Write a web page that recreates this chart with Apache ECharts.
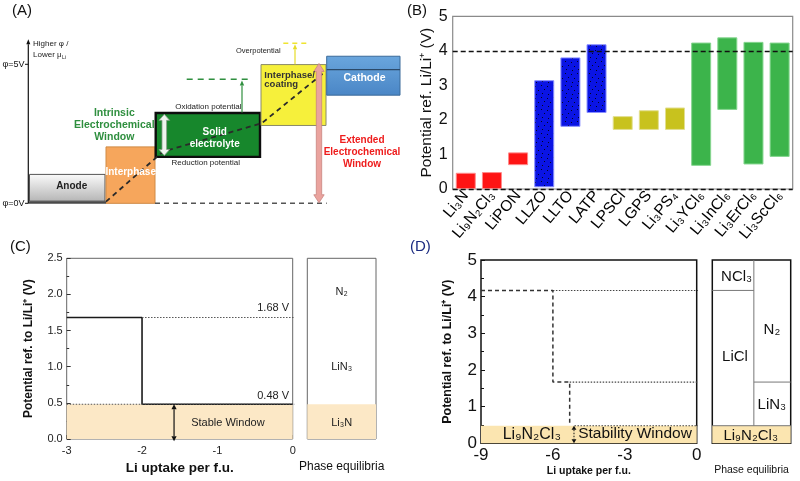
<!DOCTYPE html>
<html><head><meta charset="utf-8">
<script src="https://cdn.jsdelivr.net/npm/echarts@6/dist/echarts.min.js"></script>
<style>html,body{margin:0;padding:0;background:#fff}#c{width:800px;height:481px}</style>
</head><body><div id="c"></div>
<script>
// ---------------- Panel B data ----------------
const bCategories = ['Li₃N','Li₉N₂Cl₃','LiPON','LLZO','LLTO','LATP','LPSCl','LGPS','Li₃PS₄','Li₃YCl₆','Li₃InCl₆','Li₃ErCl₆','Li₃ScCl₆'];
const bLow  = [0.00,0.00,0.69,0.05,1.80,2.20,1.71,1.71,1.71,0.67,2.29,0.71,0.93];
const bHigh = [0.47,0.49,1.06,3.15,3.81,4.19,2.11,2.28,2.36,4.24,4.39,4.26,4.24];
const bGroup = ['nitride','nitride','nitride','oxide','oxide','oxide','sulfide','sulfide','sulfide','halide','halide','halide','halide'];
const bRefLines = [4, 0];
const bYTicks = [0,1,2,3,4,5];

// ---------------- Panel C data ----------------
const cStepX = [-3,-2,-2,0];
const cStepY = [1.68,1.68,0.48,0.48];
const cLevels = [1.68,0.48];
const cLevelStartX = [-2,-3];
const cStableTop = 0.48;
const cPhaseNames = ['N₂','LiN₃','Li₃N'];
const cPhaseY = [2.04,1.0,0.22];

// ---------------- Panel D data ----------------
const dStepX = [-9,-6,-6,-5.3,-5.3];
const dStepY = [4.17,4.17,1.67,1.67,0.48];
const dLevels = [4.17,1.67,0.48];
const dLevelStartX = [-6,-5.3,-5.1];
const dStableTop = 0.48;
const dPhaseNames = ['NCl₃','LiCl','N₂','LiN₃','Li₉N₂Cl₃'];
const dPhaseX = [0.31,0.29,0.76,0.76,0.49];
const dPhaseY = [4.55,2.36,3.09,1.04,0.2];
const dDivider = 0.53;

// ---------------- Panel A (schematic) data: x arbitrary, y = potential phi (V) ----------------
const aBoxNames = ['Anode','Interphase','Solid electrolyte','Interphase/coating','Cathode'];
const aBoxLeft  = [29.5,106,155.7,261,326.7];
const aBoxRight = [105,155,260,326,400];
const aBoxLow   = [0.08,0,1.67,2.80,3.89];
const aBoxHigh  = [1.04,2.03,3.25,4.99,5.29];
const aDiagX = [106,163,261.7,325];
const aDiagY = [0.06,1.86,2.88,4.73];

const FONT = 'Liberation Sans, Arial, sans-serif';

function stipple(bg) {
  const c = document.createElement('canvas'); c.width = 12; c.height = 12;
  const g = c.getContext('2d'); g.fillStyle = bg; g.fillRect(0,0,12,12);
  g.fillStyle = 'rgba(0,0,0,0.85)';
  [[1,1],[7,2],[4,5],[10,6],[2,9],[8,10]].forEach(p => g.fillRect(p[0],p[1],1,1));
  return c;
}

const boxStyle = {
  'Anode': {fill:new echarts.graphic.LinearGradient(0,0,0,1,[{offset:0,color:'#fbfbfb'},{offset:1,color:'#b5b5b5'}]), stroke:'#555', lw:1},
  'Interphase': {fill:'#f6a65c', stroke:'#d08a44', lw:1},
  'Solid electrolyte': {fill:'#17872c', stroke:'#0d0d0d', lw:2.4},
  'Interphase/coating': {fill:'#f6f03b', stroke:'#8a8a6a', lw:1},
  'Cathode': {fill:new echarts.graphic.LinearGradient(0,0,0,1,[{offset:0,color:'#6aa6dd'},{offset:1,color:'#4a86c6'}]), stroke:'#3b6a9a', lw:1}
};
const bColors = {nitride:'#fe1414', oxide:{image:stipple('#0a14e4'), repeat:'repeat'}, sulfide:'#c8c21e', halide:'#3cb44b'};
const bBorders = {nitride:'#ff8a8a', oxide:'#8a90ff', sulfide:'#e2df90', halide:'#86d690'};

function textSeries(xi, yi, items, z) {
  return {type:'custom', xAxisIndex:xi, yAxisIndex:yi, silent:true, z:z||20, clip:false,
    data: items.map(t => [t.x, t.y]),
    renderItem(params, api) {
      const t = items[params.dataIndex];
      const p = api.coord([api.value(0), api.value(1)]);
      return {type:'text', x:p[0], y:p[1], style:{text:t.text, fill:t.color||'#111',
        font:(t.weight||'normal')+' '+(t.size||11)+'px '+FONT, align:t.align||'center', verticalAlign:'middle'}};
    }};
}
function lineSeries(xi, yi, pts, style, z) {
  return {type:'line', xAxisIndex:xi, yAxisIndex:yi, data:pts, showSymbol:false, symbol:'none', silent:true,
    clip:false, animation:false, z:z||5, lineStyle:Object.assign({color:'#000', width:1}, style)};
}
function thinArrow(xi, yi, x, y1, y2, both, color, width, dash, hw, hl, z) {
  return {type:'custom', xAxisIndex:xi, yAxisIndex:yi, silent:true, clip:false, z:z||8,
    data:[[x,y1,y2]],
    renderItem(params, api) {
      const a = api.coord([api.value(0), api.value(1)]);
      const b = api.coord([api.value(0), api.value(2)]);
      const up = b[1] < a[1] ? -1 : 1;
      const children = [];
      const s = both ? a[1] + up*hl : a[1];
      const e = b[1] - up*hl;
      children.push({type:'line', shape:{x1:a[0],y1:s,x2:b[0],y2:e}, style:{stroke:color, lineWidth:width, lineDash:dash||null}});
      children.push({type:'polygon', shape:{points:[[b[0],b[1]],[b[0]-hw,b[1]-up*hl],[b[0]+hw,b[1]-up*hl]]}, style:{fill:color}});
      if (both) children.push({type:'polygon', shape:{points:[[a[0],a[1]],[a[0]-hw,a[1]+up*hl],[a[0]+hw,a[1]+up*hl]]}, style:{fill:color}});
      return {type:'group', children};
    }};
}
function bigArrow(x, yTop, yBot, fill, stroke, w, h, L) {
  return {type:'custom', xAxisIndex:0, yAxisIndex:0, silent:true, clip:false, z:9,
    data:[[x,yTop,yBot]],
    renderItem(params, api) {
      const t = api.coord([api.value(0), api.value(1)]);
      const b = api.coord([api.value(0), api.value(2)]);
      const X = t[0], yt = t[1], yb = b[1];
      const pts = [[X,yt],[X+h,yt+L],[X+w,yt+L],[X+w,yb-L],[X+h,yb-L],[X,yb],[X-h,yb-L],[X-w,yb-L],[X-w,yt+L],[X-h,yt+L]];
      return {type:'polygon', shape:{points:pts}, style:{fill, stroke, lineWidth:0.8}};
    }};
}

const series = [];

// ---------- Panel A ----------
series.push({type:'custom', xAxisIndex:0, yAxisIndex:0, silent:true, z:2, clip:false,
  data: aBoxNames.map((n,i)=>[aBoxLeft[i], aBoxRight[i], aBoxLow[i], aBoxHigh[i]]),
  renderItem(params, api) {
    const st = boxStyle[aBoxNames[params.dataIndex]];
    const p0 = api.coord([api.value(0), api.value(3)]);
    const p1 = api.coord([api.value(1), api.value(2)]);
    return {type:'rect', shape:{x:p0[0], y:p0[1], width:p1[0]-p0[0], height:p1[1]-p0[1]}, style:{fill:st.fill, stroke:st.stroke, lineWidth:st.lw}};
  }});
series.push(lineSeries(0,0,[[28.3,0.03],[106,0.03]],{color:'#4a4a4a',width:2.6},3));
series.push(lineSeries(0,0,[[155,0],[326.7,0]],{color:'#555',width:1.5,type:[5,4]},3));
series.push(lineSeries(0,0,[[326.7,4.81],[400,4.81]],{color:'#2b4a6a',width:1.4},4));
series.push(lineSeries(0,0,aDiagX.map((x,i)=>[x,aDiagY[i]]),{color:'#2a2a2a',width:1.8,type:[5,4]},6));
series.push(lineSeries(0,0,[[186.7,4.46],[248,4.46]],{color:'#2f8f3f',width:1.5,type:[6,5]},4));
series.push(lineSeries(0,0,[[283.3,5.76],[308.3,5.76]],{color:'#efe430',width:1.5,type:[5,4]},4));
series.push(lineSeries(0,0,[[25,5],[28.3,5]],{color:'#111',width:1},4));
series.push(lineSeries(0,0,[[25,0],[28.3,0]],{color:'#111',width:1},4));
series.push(thinArrow(0,0,28.3,0,5.9,false,'#111',1.2,null,2,5,4));
series.push(thinArrow(0,0,242,3.27,4.42,false,'#2f8f3f',1.2,null,2.2,5,4));
series.push(thinArrow(0,0,295,5.0,5.72,false,'#e6dc28',1.2,null,2.2,5,4));
series.push(bigArrow(164.3,3.2,1.72,'#eef5ee','#8a9a8a',2.3,5.3,6));
series.push(bigArrow(319,5.03,0.02,'#eaa39e','#c98580',2.7,5.2,8));
series.push(textSeries(0,0,[
  {text:'Higher φ /',x:33,y:5.72,size:8,align:'left',color:'#222'},
  {text:'Lower μ',x:33,y:5.33,size:8,align:'left',color:'#222'},
  {text:'Li',x:62,y:5.24,size:5,align:'left',color:'#222'},
  {text:'φ=5V',x:24.5,y:5,size:9,align:'right',color:'#111'},
  {text:'φ=0V',x:24.5,y:0,size:9,align:'right',color:'#111'},
  {text:'Anode',x:71.7,y:0.63,size:10,weight:'bold',color:'#222'},
  {text:'Interphase',x:130.7,y:1.1,size:10,weight:'bold',color:'#fff'},
  {text:'Solid',x:214.7,y:2.54,size:10,weight:'bold',color:'#fff'},
  {text:'electrolyte',x:214.7,y:2.13,size:10,weight:'bold',color:'#fff'},
  {text:'Oxidation potential',x:208.3,y:3.47,size:8,color:'#222'},
  {text:'Reduction potential',x:205.8,y:1.44,size:8,color:'#222'},
  {text:'Overpotential',x:258.3,y:5.48,size:7.5,color:'#222'},
  {text:'Interphase/',x:264.3,y:4.61,size:9.5,weight:'bold',align:'left',color:'#333'},
  {text:'coating',x:264.3,y:4.27,size:9.5,weight:'bold',align:'left',color:'#333'},
  {text:'Cathode',x:364.5,y:4.49,size:10.5,weight:'bold',color:'#fff'},
  {text:'Intrinsic',x:114.3,y:3.25,size:10.5,weight:'bold',color:'#2f8f3f'},
  {text:'Electrochemical',x:114.3,y:2.80,size:10.5,weight:'bold',color:'#2f8f3f'},
  {text:'Window',x:114.3,y:2.37,size:10.5,weight:'bold',color:'#2f8f3f'},
  {text:'Extended',x:362,y:2.28,size:10,weight:'bold',color:'#ee1c1c'},
  {text:'Electrochemical',x:362,y:1.83,size:10,weight:'bold',color:'#ee1c1c'},
  {text:'Window',x:362,y:1.40,size:10,weight:'bold',color:'#ee1c1c'}
],20));

// ---------- Panel B ----------
series.push({type:'bar', xAxisIndex:1, yAxisIndex:1, stack:'b', barWidth:20, silent:true,
  itemStyle:{color:'transparent'}, data:bLow});
series.push({type:'bar', xAxisIndex:1, yAxisIndex:1, stack:'b', barWidth:20, silent:true,
  data: bHigh.map((h,i)=>({value:+(h-bLow[i]).toFixed(3), itemStyle:{color:bColors[bGroup[i]], borderColor:bBorders[bGroup[i]], borderWidth:1}})),
  markLine:{silent:true, symbol:'none', label:{show:false}, lineStyle:{color:'#111', type:[5,3], width:1.3},
    data: bRefLines.map(v=>({yAxis:v}))}});

// ---------- Panel C ----------
series.push({type:'line', xAxisIndex:2, yAxisIndex:2, data:cStepX.map((x,i)=>[x,cStepY[i]]), showSymbol:false, symbol:'none', silent:true, z:6,
  lineStyle:{color:'#1a1a1a', width:1.6},
  markArea:{silent:true, itemStyle:{color:'#fce8c6'}, data:[[{coord:[-3,0]},{coord:[0,cStableTop]}]]}});
cLevels.forEach((v,i)=>series.push(lineSeries(2,2,[[cLevelStartX[i],v],[1.106,v]],{color:'#555',width:1.1,type:[1.5,1.5]},7)));
series.push(thinArrow(2,2,-1.575,cStableTop,-0.03,true,'#111',1.2,null,2.6,5,8));
series.push(textSeries(2,2,[
  {text:'1.68 V',x:-0.26,y:1.81,size:11,color:'#222'},
  {text:'0.48 V',x:-0.26,y:0.60,size:11,color:'#222'},
  {text:'Stable Window',x:-0.86,y:0.22,size:11,color:'#222'}
]));
series.push({type:'line', xAxisIndex:3, yAxisIndex:3, data:[], silent:true,
  markArea:{silent:true, itemStyle:{color:'#fce8c6'}, data:[[{coord:[0,0]},{coord:[1,cStableTop]}]]}});
series.push(textSeries(3,3,cPhaseNames.map((n,i)=>({text:n,x:0.5,y:cPhaseY[i],size:11,color:'#222'}))));

// ---------- Panel D ----------
series.push({type:'line', xAxisIndex:4, yAxisIndex:4, data:dStepX.map((x,i)=>[x,dStepY[i]]), showSymbol:false, symbol:'none', silent:true, z:6,
  lineStyle:{color:'#333', width:1.5, type:[4,3]},
  markArea:{silent:true, itemStyle:{color:'#fbe5b0'}, data:[[{coord:[-9,0]},{coord:[0,dStableTop]}]]}});
dLevels.forEach((v,i)=>series.push(lineSeries(4,4,[[dLevelStartX[i],v],[0.65,v]],{color:'#444',width:1.1,type:[1.5,1.5]},7)));
series.push(thinArrow(4,4,-5.12,dStableTop,0,true,'#111',1,[1.5,1.5],2.4,4,8));
series.push(textSeries(4,4,[
  {text:'Li₉N₂Cl₃',x:-6.88,y:0.25,size:16,color:'#111'},
  {text:'Stability Window',x:-2.575,y:0.25,size:15.5,color:'#111'}
]));
series.push({type:'line', xAxisIndex:5, yAxisIndex:5, data:[], silent:true,
  markArea:{silent:true, itemStyle:{color:'#fbe5b0'}, data:[[{coord:[0,0]},{coord:[1,dStableTop]}]]}});
series.push(lineSeries(5,5,[[0,dLevels[0]],[dDivider,dLevels[0]]],{color:'#777',width:1},6));
series.push(lineSeries(5,5,[[dDivider,dLevels[1]],[1,dLevels[1]]],{color:'#777',width:1},6));
series.push(lineSeries(5,5,[[0,dLevels[2]],[1,dLevels[2]]],{color:'#777',width:1},6));
series.push(lineSeries(5,5,[[dDivider,dLevels[2]],[dDivider,5]],{color:'#777',width:1},6));
series.push(textSeries(5,5,dPhaseNames.map((n,i)=>({text:n,x:dPhaseX[i],y:dPhaseY[i],size:15,color:'#111'}))));

const tickStyle = {color:'#333'};
const noLine = {show:false, onZero:false};
const option = {
  animation:false,
  textStyle:{fontFamily:FONT},
  grid:[
    {left:0, top:0, width:400, height:220},
    {left:452.7, top:16.3, width:340, height:172.7, show:true, borderColor:'#8a8a8a', borderWidth:1.2, backgroundColor:'transparent'},
    {left:66.7, top:258.3, width:226, height:180.7, show:true, borderColor:'#666', borderWidth:1},
    {left:307.3, top:258.3, width:68.7, height:180.7, show:true, borderColor:'#666', borderWidth:1},
    {left:481, top:260, width:215.7, height:183.3, show:true, borderColor:'#111', borderWidth:1.5},
    {left:712.3, top:260, width:78.4, height:183.3, show:true, borderColor:'#111', borderWidth:1.5}
  ],
  xAxis:[
    {gridIndex:0, type:'value', min:0, max:400, show:false},
    {gridIndex:1, type:'category', data:bCategories, axisLine:noLine,
      axisTick:{alignWithLabel:true, length:4, lineStyle:{color:'#666'}},
      axisLabel:{rotate:50, fontSize:15.5, color:'#000', margin:4, interval:0}},
    {gridIndex:2, type:'value', min:-3, max:0, interval:1, axisLine:noLine,
      axisTick:{inside:true, length:4, lineStyle:tickStyle}, minorTick:{show:true, splitNumber:2, length:2.5, lineStyle:tickStyle},
      splitLine:{show:false}, axisLabel:{fontSize:11, color:'#222', margin:6},
      name:'Li uptake per f.u.', nameLocation:'middle', nameGap:22, nameTextStyle:{fontSize:13.5, fontWeight:'bold', color:'#111'}},
    {gridIndex:3, type:'value', min:0, max:1, axisLine:noLine, axisTick:{show:false}, axisLabel:{show:false}, splitLine:{show:false},
      name:'Phase equilibria', nameLocation:'middle', nameGap:22, nameTextStyle:{fontSize:12, color:'#111'}},
    {gridIndex:4, type:'value', min:-9, max:0, interval:3, axisLine:noLine,
      axisTick:{inside:true, length:4, lineStyle:{color:'#111'}}, minorTick:{show:true, splitNumber:2, length:3, lineStyle:{color:'#111'}},
      splitLine:{show:false}, axisLabel:{fontSize:17, color:'#111', margin:4},
      name:'Li uptake per f.u.', nameLocation:'middle', nameGap:22, nameTextStyle:{fontSize:10.5, fontWeight:'bold', color:'#111'}},
    {gridIndex:5, type:'value', min:0, max:1, axisLine:noLine, axisTick:{show:false}, axisLabel:{show:false}, splitLine:{show:false},
      name:'Phase equilibria', nameLocation:'middle', nameGap:21, nameTextStyle:{fontSize:10.5, color:'#111'}}
  ],
  yAxis:[
    {gridIndex:0, type:'value', min:-0.6, max:7.313, show:false},
    {gridIndex:1, type:'value', min:bYTicks[0], max:bYTicks[bYTicks.length-1], interval:1, axisLine:noLine, axisTick:{show:false}, splitLine:{show:false},
      axisLabel:{fontSize:16, color:'#111', margin:5},
      name:'Potential ref. Li/Li⁺ (V)', nameLocation:'middle', nameGap:18, nameTextStyle:{fontSize:15.5, color:'#111'}},
    {gridIndex:2, type:'value', min:0, max:2.5, interval:0.5, axisLine:noLine,
      axisTick:{inside:true, length:4, lineStyle:tickStyle}, minorTick:{show:true, splitNumber:2, length:2.5, lineStyle:tickStyle},
      splitLine:{show:false}, axisLabel:{fontSize:11, color:'#222', margin:4, formatter:v=>v.toFixed(1)},
      name:'Potential ref. to Li/Li⁺ (V)', nameLocation:'middle', nameGap:32, nameTextStyle:{fontSize:12, fontWeight:'bold', color:'#111'}},
    {gridIndex:3, type:'value', min:0, max:2.5, show:false},
    {gridIndex:4, type:'value', min:0, max:5, interval:1, axisLine:noLine,
      axisTick:{inside:true, length:4, lineStyle:{color:'#111'}}, minorTick:{show:true, splitNumber:2, length:3, lineStyle:{color:'#111'}},
      splitLine:{show:false}, axisLabel:{fontSize:17, color:'#111', margin:4},
      name:'Potential ref. to Li/Li⁺ (V)', nameLocation:'middle', nameGap:27, nameTextStyle:{fontSize:12.5, fontWeight:'bold', color:'#111'}},
    {gridIndex:5, type:'value', min:0, max:5, show:false}
  ],
  graphic:[
    {type:'text', left:12, top:3, style:{text:'(A)', font:'15px '+FONT, fill:'#111'}},
    {type:'text', left:407, top:3, style:{text:'(B)', font:'15px '+FONT, fill:'#111'}},
    {type:'text', left:10, top:239, style:{text:'(C)', font:'15px '+FONT, fill:'#111'}},
    {type:'text', left:410, top:239, style:{text:'(D)', font:'15px '+FONT, fill:'#1a2a80'}}
  ],
  series
};
const chart = echarts.init(document.getElementById('c'));
chart.setOption(option);
</script></body></html>
